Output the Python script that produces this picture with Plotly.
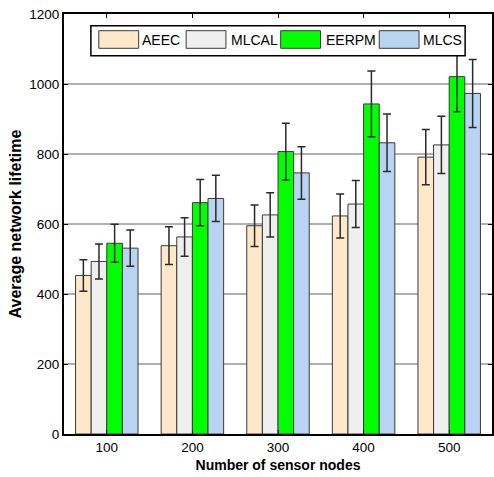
import plotly.graph_objects as go

categories = ["100", "200", "300", "400", "500"]
series_names = ["AEEC", "MLCAL", "EERPM", "MLCS"]
aeec = [453, 538, 595, 623, 791]
aeec_err = [45, 54, 59, 63, 79]
mlcal = [493, 563, 626, 657, 826]
mlcal_err = [50, 55, 63, 67, 82]
eerpm = [545, 661, 807, 943, 1021]
eerpm_err = [54, 66, 81, 94, 100]
mlcs = [531, 673, 746, 832, 973]
mlcs_err = [52, 66, 75, 82, 97]
y_ticks = [0, 200, 400, 600, 800, 1000, 1200]

values = [aeec, mlcal, eerpm, mlcs]
errors = [aeec_err, mlcal_err, eerpm_err, mlcs_err]
colors = ["#FDE9C9", "#EFEFEF", "#00FF00", "#B9D4F1"]

FONT = "Liberation Sans, Arial, sans-serif"
FS = 13.5

fig = go.Figure()
for name, v, e, c in zip(series_names, values, errors, colors):
    fig.add_trace(go.Bar(
        x=categories, y=v, name=name,
        marker=dict(color=c, line=dict(color="#3a3a3a", width=1)),
        error_y=dict(type="data", array=e, visible=True, color="#2a2a2a",
                     thickness=1.5, width=4),
        showlegend=False,
    ))

W, H = 494, 477
L, R, T, B = 64, 0, 14, 43
pw, ph = W - L - R, H - T - B

def px(x):
    return (x - L) / pw

def py(y):
    return (H - B - y) / ph

shapes = [dict(type="rect", xref="paper", yref="paper", layer="above",
               x0=px(91), x1=px(467), y0=py(55.7), y1=py(25.7),
               fillcolor="white", line=dict(color="black", width=1.5))]
annotations = []
sw_x = [99, 186.7, 281.7, 380.7]
tx_x = [141.7, 231, 326, 424]
for name, c, sx, tx in zip(series_names, colors, sw_x, tx_x):
    shapes.append(dict(type="rect", xref="paper", yref="paper", layer="above",
                       x0=px(sx), x1=px(sx + 40), y0=py(48.3), y1=py(30.7),
                       fillcolor=c, line=dict(color="#3a3a3a", width=1)))
    annotations.append(dict(xref="paper", yref="paper", x=px(tx - 1), y=py(39.5),
                            text=name, showarrow=False, xanchor="left",
                            yanchor="middle", font=dict(size=FS + 0.5, color="black", family=FONT)))

fig.update_layout(
    width=W, height=H,
    margin=dict(l=L, r=R, t=T, b=B, pad=0),
    paper_bgcolor="white", plot_bgcolor="white",
    barmode="group", bargap=0.27, bargroupgap=0,
    font=dict(family=FONT, size=FS, color="black"),
    shapes=shapes, annotations=annotations,
    xaxis=dict(
        type="category", range=[-0.5, 4.5],
        showline=True, linecolor="black", linewidth=2, mirror="ticks",
        ticks="inside", ticklen=4, tickcolor="black",
        showgrid=False,
        tickfont=dict(size=FS, family=FONT),
        title=dict(text="<b>Number of sensor nodes</b>", standoff=6,
                   font=dict(size=14, family=FONT)),
    ),
    yaxis=dict(
        range=[0, 1200], tickvals=y_ticks,
        showline=True, linecolor="black", linewidth=2, mirror="ticks",
        ticks="inside", ticklen=4, tickcolor="black",
        showgrid=True, gridcolor="#b0b0b0", gridwidth=1.5,
        zeroline=False,
        tickfont=dict(size=FS, family=FONT),
        title=dict(text="<b>Average network lifetime</b>", standoff=4,
                   font=dict(size=16, family=FONT)),
    ),
)

fig.write_html("out.html")
